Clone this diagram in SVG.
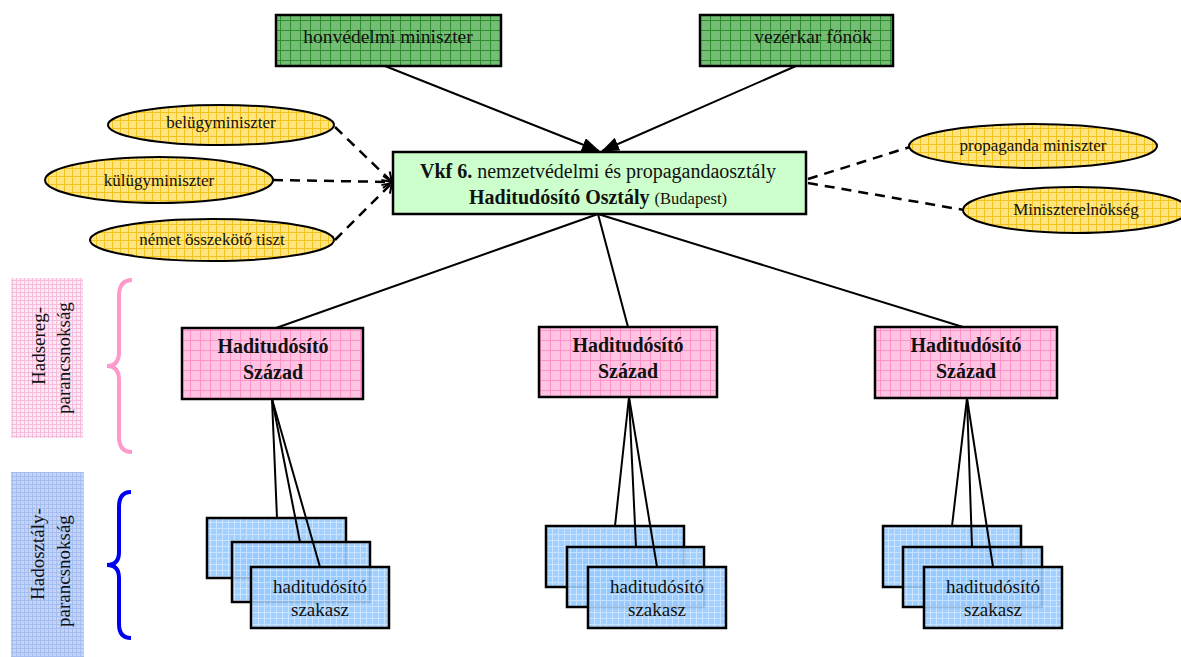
<svg xmlns="http://www.w3.org/2000/svg" width="1181" height="657" viewBox="0 0 1181 657">
<defs>
<pattern id="pGreen" width="10" height="10" patternUnits="userSpaceOnUse">
<rect width="10" height="10" fill="#74bd74"/>
<path d="M0,0.5H10M0.5,0V10" stroke="#2e8b2e" stroke-width="1"/>
</pattern>
<pattern id="pYellow" width="8" height="8" patternUnits="userSpaceOnUse">
<rect width="8" height="8" fill="#ffe480"/>
<path d="M0,0.5H8M0.5,0V8" stroke="#f2c31c" stroke-width="1"/>
</pattern>
<pattern id="pPink" width="10" height="10" patternUnits="userSpaceOnUse">
<rect width="10" height="10" fill="#ffc4e2"/>
<path d="M0,0.5H10M0.5,0V10" stroke="#ff92c8" stroke-width="1"/>
</pattern>
<pattern id="pBlue" width="6" height="6" patternUnits="userSpaceOnUse">
<rect width="6" height="6" fill="#96cbff"/>
<path d="M0,0.5H6M0.5,0V6" stroke="#c4e1ff" stroke-width="1"/>
</pattern>
<pattern id="pPinkLabel" width="4" height="4" patternUnits="userSpaceOnUse">
<rect width="4" height="4" fill="#feeaf4"/>
<path d="M0,0.5H4M0.5,0V4" stroke="#f6bcdb" stroke-width="1"/>
</pattern>
<pattern id="pBlueLabel" width="4" height="4" patternUnits="userSpaceOnUse">
<rect width="4" height="4" fill="#c4d4f7"/>
<path d="M0,0.5H4M0.5,0V4" stroke="#a5bdf0" stroke-width="1"/>
</pattern>
<marker id="arrowFill" markerWidth="18" markerHeight="14" refX="17" refY="7" orient="auto" markerUnits="userSpaceOnUse">
<path d="M0,0 L18,7 L0,14 Z" fill="#000"/>
</marker>
<marker id="arrowOpen" markerWidth="12" markerHeight="14" refX="10" refY="7" orient="auto" markerUnits="userSpaceOnUse">
<path d="M1,1 L10,7 L1,13" fill="none" stroke="#000" stroke-width="2"/>
</marker>
</defs>
<style>
.t{font-family:"Liberation Serif","Times New Roman",serif;fill:#111;}
.box{stroke:#000;stroke-width:2.5;}
.ell{fill:url(#pYellow);stroke:#000;stroke-width:2;}
.sz{fill:url(#pBlue);stroke:#000;stroke-width:2.5;fill-opacity:0.9;}
.solid{stroke:#000;stroke-width:2;fill:none;}
.dash{stroke:#000;stroke-width:2.5;stroke-dasharray:10,7;fill:none;}
</style>

<g id="label-hadsereg">
<rect x="11" y="278" width="72" height="160" fill="url(#pPinkLabel)"/>
<text class="t" font-size="19" transform="translate(45,385) rotate(-90)">Hadsereg-</text>
<text class="t" font-size="19" transform="translate(70,414) rotate(-90)">parancsnokság</text>
<path d="M132,280 Q119,280 119,296 L119,352 Q119,366 107,366 Q119,366 119,380 L119,437 Q119,452 132,452" fill="none" stroke="#ff99cc" stroke-width="4"/>
</g>
<g id="label-hadosztaly">
<rect x="11" y="472" width="73" height="185" fill="url(#pBlueLabel)"/>
<text class="t" font-size="19" transform="translate(44,600) rotate(-90)">Hadosztály-</text>
<text class="t" font-size="19" transform="translate(70,627) rotate(-90)">parancsnokság</text>
<path d="M131,492 Q119,492 119,507 L119,552 Q119,565 107,565 Q119,565 119,578 L119,624 Q119,638 131,638" fill="none" stroke="#0000ee" stroke-width="4"/>
</g>

<g id="node-honvedelmi">
<rect class="box" x="276" y="15" width="225" height="51" fill="url(#pGreen)"/>
<text class="t" x="388" y="43" font-size="19.5" text-anchor="middle">honvédelmi miniszter</text>
</g>
<g id="node-vezerkar">
<rect class="box" x="700" y="15" width="193" height="51" fill="url(#pGreen)"/>
<text class="t" x="813" y="43" font-size="19.5" text-anchor="middle">vezérkar főnök</text>
</g>

<g id="node-vkf">
<rect class="box" x="393" y="152" width="413" height="62" fill="#ccffcc"/>
<text class="t" x="598" y="178" font-size="20" text-anchor="middle"><tspan font-weight="bold">Vkf 6.</tspan> nemzetvédelmi és propagandaosztály</text>
<text class="t" x="598" y="204" font-size="20" text-anchor="middle"><tspan font-weight="bold">Haditudósító Osztály</tspan> <tspan font-size="16.5">(Budapest)</tspan></text>
</g>

<g id="node-belugy">
<ellipse class="ell" cx="221" cy="125" rx="113" ry="20"/>
<text class="t" x="221" y="128" font-size="17" text-anchor="middle">belügyminiszter</text>
</g>
<g id="node-kulugy">
<ellipse class="ell" cx="159" cy="180" rx="114" ry="23"/>
<text class="t" x="159" y="186" font-size="17" text-anchor="middle">külügyminiszter</text>
</g>
<g id="node-nemet">
<ellipse class="ell" cx="212" cy="240" rx="122" ry="21"/>
<text class="t" x="212" y="245" font-size="17" text-anchor="middle">német összekötő tiszt</text>
</g>
<g id="node-propaganda">
<ellipse class="ell" cx="1033" cy="146" rx="124" ry="22"/>
<text class="t" x="1033" y="151" font-size="17" text-anchor="middle">propaganda miniszter</text>
</g>
<g id="node-miniszterelnokseg">
<ellipse class="ell" cx="1076" cy="210" rx="113" ry="23"/>
<text class="t" x="1076" y="215" font-size="17" text-anchor="middle">Miniszterelnökség</text>
</g>

<g id="node-szazad1">
<rect class="box" x="182" y="328" width="181" height="71" fill="url(#pPink)"/>
<text class="t" x="273" y="353" font-size="20" font-weight="bold" text-anchor="middle">Haditudósító</text>
<text class="t" x="273" y="379" font-size="20" font-weight="bold" text-anchor="middle">Század</text>
</g>
<g id="node-szazad2">
<rect class="box" x="539" y="327" width="178" height="70" fill="url(#pPink)"/>
<text class="t" x="628" y="352" font-size="20" font-weight="bold" text-anchor="middle">Haditudósító</text>
<text class="t" x="628" y="378" font-size="20" font-weight="bold" text-anchor="middle">Század</text>
</g>
<g id="node-szazad3">
<rect class="box" x="875" y="327" width="182" height="71" fill="url(#pPink)"/>
<text class="t" x="966" y="352" font-size="20" font-weight="bold" text-anchor="middle">Haditudósító</text>
<text class="t" x="966" y="378" font-size="20" font-weight="bold" text-anchor="middle">Század</text>
</g>

<g id="node-szakasz1">
<rect class="sz" x="207" y="518" width="139" height="60"/>
<rect class="sz" x="232" y="542" width="138" height="60"/>
<rect class="sz" x="251" y="567" width="138" height="61"/>
<text class="t" x="320" y="593" font-size="19" text-anchor="middle">haditudósító</text>
<text class="t" x="320" y="616" font-size="19" text-anchor="middle">szakasz</text>
</g>
<g id="node-szakasz2">
<rect class="sz" x="546" y="526" width="138" height="61"/>
<rect class="sz" x="567" y="547" width="137" height="60"/>
<rect class="sz" x="588" y="567" width="138" height="61"/>
<text class="t" x="657" y="593" font-size="19" text-anchor="middle">haditudósító</text>
<text class="t" x="657" y="616" font-size="19" text-anchor="middle">szakasz</text>
</g>
<g id="node-szakasz3">
<rect class="sz" x="883" y="526" width="138" height="61"/>
<rect class="sz" x="903" y="547" width="139" height="60"/>
<rect class="sz" x="924" y="567" width="138" height="61"/>
<text class="t" x="993" y="593" font-size="19" text-anchor="middle">haditudósító</text>
<text class="t" x="993" y="616" font-size="19" text-anchor="middle">szakasz</text>
</g>

<g id="connectors">
<line class="solid" x1="385" y1="66" x2="599" y2="151" stroke-width="2.5" marker-end="url(#arrowFill)"/>
<line class="solid" x1="796" y1="66" x2="602" y2="151" stroke-width="2.5" marker-end="url(#arrowFill)"/>
<line class="dash" x1="335" y1="127" x2="392" y2="182" marker-end="url(#arrowOpen)"/>
<line class="dash" x1="273" y1="180" x2="392" y2="182" marker-end="url(#arrowOpen)"/>
<line class="dash" x1="335" y1="240" x2="392" y2="183" marker-end="url(#arrowOpen)"/>
<line class="dash" x1="808" y1="179" x2="910" y2="147"/>
<line class="dash" x1="808" y1="183" x2="964" y2="210"/>
<line class="solid" x1="598" y1="214" x2="276" y2="328"/>
<line class="solid" x1="598" y1="214" x2="628" y2="327"/>
<line class="solid" x1="598" y1="214" x2="963" y2="327"/>
<line class="solid" x1="272" y1="399" x2="277" y2="518"/>
<line class="solid" x1="272" y1="399" x2="300" y2="542"/>
<line class="solid" x1="272" y1="399" x2="320" y2="567"/>
<line class="solid" x1="629" y1="397" x2="615" y2="526"/>
<line class="solid" x1="629" y1="397" x2="636" y2="547"/>
<line class="solid" x1="629" y1="397" x2="657" y2="567"/>
<line class="solid" x1="967" y1="398" x2="952" y2="526"/>
<line class="solid" x1="967" y1="398" x2="972" y2="547"/>
<line class="solid" x1="967" y1="398" x2="993" y2="567"/>
</g>
</svg>
